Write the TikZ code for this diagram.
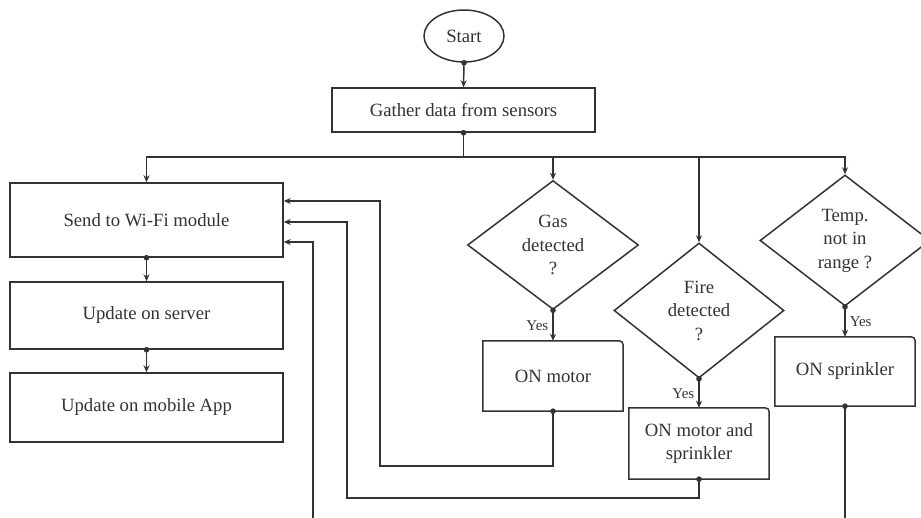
\documentclass[tikz,border=0pt]{standalone}
\usepackage{fontspec}
\setmainfont{Liberation Serif}
\usetikzlibrary{shapes.geometric,arrows.meta,calc}
\definecolor{ink}{HTML}{333333}
\begin{document}
\begin{tikzpicture}[x=1pt,y=-1pt,
  line/.style={draw=ink, line width=1.5pt},
  flow/.style={line, -{Stealth[length=7pt,width=6pt]}},
  dflow/.style={line, shorten <=-2.75pt, {Circle[length=5.5pt]}-{Stealth[length=7pt,width=6pt]}},
  dline/.style={line, shorten <=-2.75pt, {Circle[length=5.5pt]}-},
  txt/.style={font=\fontsize{18.7}{23.5}\selectfont, text=ink, align=center, inner sep=0pt},
  box/.style={txt, rectangle, draw=ink, line width=1.5pt},
  act/.style={txt, rectangle},
  dec/.style={txt, diamond, draw=ink, line width=1.5pt},
  yes/.style={font=\fontsize{15}{18}\selectfont, text=ink, inner sep=4pt}
]
\useasboundingbox (0,0) rectangle (921,518);
\fill[white] (0,0) rectangle (921,518);
\clip (0,0) rectangle (921,518);

% nodes
\node[txt, ellipse, draw=ink, line width=1.5pt, minimum width=80pt, minimum height=52pt] (start) at (464,36) {Start};
\node[box, minimum width=263pt, minimum height=44pt] (gather) at (463.5,110) {Gather data from sensors};
\node[box, minimum width=273pt, minimum height=74pt] (send) at (146.5,220) {Send to Wi-Fi module};
\node[box, minimum width=273pt, minimum height=67pt] (server) at (146.5,315.5) {Update on server};
\node[box, minimum width=273pt, minimum height=69pt] (mobile) at (146.5,407.5) {Update on mobile App};

\node[dec, minimum width=171pt, minimum height=129pt] (gas) at (553,245) {Gas\\detected\\?};
\node[dec, minimum width=170pt, minimum height=135pt] (fire) at (699,310.5) {Fire\\detected\\?};
\node[dec, minimum width=170pt, minimum height=131pt] (temp) at (845,240.5) {Temp.\\not in\\range ?};

\node[act, minimum width=140pt, minimum height=70pt] (motor) at (553,376) {ON motor};
\node[act, minimum width=140pt, minimum height=71pt] (motsprk) at (699,443.5) {ON motor and\\sprinkler};
\node[act, minimum width=140pt, minimum height=69pt] (sprk) at (845,371.5) {ON sprinkler};

\foreach \n in {motor,motsprk,sprk}
  \draw[line] (\n.south west) -- (\n.north west) -- ($(\n.north east)+(-9pt,0pt)$)
     .. controls (\n.north east) .. ($(\n.north east)+(0pt,-9pt)$) -- (\n.south east) -- cycle;

% main flow
\coordinate (split) at (463.5,157);
\draw[dflow] (start.south) -- (gather.north);
\draw[dline] (gather.south) -- (split);
\draw[flow] (split) -| (send.north);
\draw[flow] (split) -| (gas.north);
\draw[flow] (split) -| (fire.north);
\draw[flow] (split) -| (temp.north);

\draw[dflow] (send.south) -- (server.north);
\draw[dflow] (server.south) -- (mobile.north);

\draw[dflow] (gas.south) -- node[yes, left] {Yes} (motor.north);
\draw[dflow] (fire.south) -- node[yes, left] {Yes} (motsprk.north);
\draw[dflow] (temp.south) -- node[yes, right] {Yes} (sprk.north);

% feedback loops
\draw[dflow] (motor.south) -- (motor.south |- 0,466) -| (380,201) -- (send.east |- 0,201);
\draw[dflow] (motsprk.south) -- (motsprk.south |- 0,498) -| (347,222) -- (send.east |- 0,222);
\draw[dflow] (sprk.south) -- (sprk.south |- 0,560) -| (313,242) -- (send.east |- 0,242);
\end{tikzpicture}
\end{document}
